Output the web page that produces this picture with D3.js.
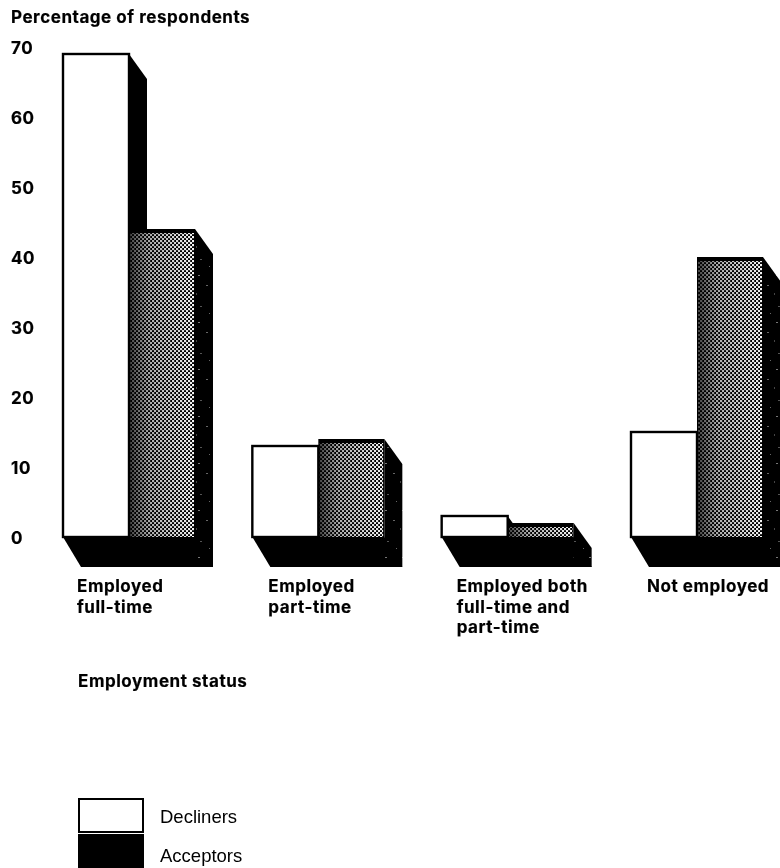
<!DOCTYPE html>
<html><head><meta charset="utf-8">
<script src="https://cdn.jsdelivr.net/npm/d3@7/dist/d3.min.js"></script>
<style>html,body{margin:0;padding:0;background:#fff}svg{display:block}
text{font-family:"Liberation Sans",Arial,sans-serif;fill:#000}
.b{font-family:Inter,"Liberation Sans",sans-serif;font-weight:700;font-size:17px;letter-spacing:.55px;stroke:#000;stroke-width:.2px}
.r{font-size:18.5px;letter-spacing:0}</style></head><body><svg id="c" width="780" height="868"></svg>
<script>
const categories=[["Employed","full-time"],["Employed","part-time"],["Employed both","full-time and","part-time"],["Not employed"]];
const decliners=[69,13,3,15];
const acceptors=[44,14,2,40];
const yTicks=[0,10,20,30,40,50,60,70];
const legendLabels=["Decliners","Acceptors"];
const yTitle="Percentage of respondents";
const xTitle="Employment status";

const svg=d3.select("#c");
const y=d3.scaleLinear().domain([0,70]).range([537,47]);
const x0=d3.scalePoint().domain(d3.range(categories.length)).range([63,631]);
const bw=66, dx=18, dyTop=25, dyFloor=30;
const labelDx=[14,16,15,16];
const defs=svg.append("defs");
const f=defs.append("filter").attr("id","soft").attr("x",0).attr("y",0).attr("width",1).attr("height",1);
f.append("feGaussianBlur").attr("stdDeviation",.4);
const g=defs.append("linearGradient").attr("id","grad");
g.append("stop").attr("offset","0").attr("stop-color","#444");
g.append("stop").attr("offset","0.3").attr("stop-color","#aaa");
g.append("stop").attr("offset","1").attr("stop-color","#f4f4f4");
const m=defs.append("mask").attr("id","fade").attr("maskContentUnits","objectBoundingBox");
m.append("rect").attr("width",1).attr("height",1).attr("fill","url(#grad)");
const p=defs.append("pattern").attr("id","dots").attr("width",4).attr("height",4).attr("patternUnits","userSpaceOnUse");
p.append("rect").attr("x",0).attr("y",0).attr("width",2.2).attr("height",2.2).attr("fill","#fff");
p.append("rect").attr("x",2).attr("y",2).attr("width",2.2).attr("height",2.2).attr("fill","#fff");
const sp=defs.append("pattern").attr("id","speck").attr("width",17).attr("height",47).attr("patternUnits","userSpaceOnUse");
sp.append("rect").attr("width",17).attr("height",47).attr("fill","#060606");
[[2,3,2,1,"#666"],[9,11,1,2,"#444"],[13,24,2,1,"#555"],[5,31,1,1,"#666"],[11,40,2,1,"#777"]]
 .forEach(d=>sp.append("rect").attr("x",d[0]).attr("y",d[1]).attr("width",d[2]).attr("height",d[3]).attr("fill",d[4]));
const root=svg.append("g").attr("filter","url(#soft)");
const line=d3.line();
categories.forEach((c,i)=>{
  const L=x0(i), M=L+bw, R=M+bw;
  const yb=y(0), yd=y(decliners[i]), ya=y(acceptors[i]);
  const G=root.append("g");
  // floor
  G.append("path").attr("d",line([[L,yb],[R,yb],[R+dx,yb+dyFloor],[L+dx,yb+dyFloor]])+"Z").attr("fill","#000");
  // decliner right side
  G.append("path").attr("d",line([[M,yd],[M+dx,yd+dyTop],[M+dx,yb],[M,yb]])+"Z").attr("fill","#000");
  // acceptor right side
  G.append("path").attr("d",line([[R,ya],[R+dx,ya+dyTop],[R+dx,yb+dyFloor],[R,yb+dyFloor]])+"Z").attr("fill","url(#speck)");
  // acceptor front
  G.append("rect").attr("x",M).attr("y",ya).attr("width",bw).attr("height",yb-ya).attr("fill","#000");
  G.append("rect").attr("x",M+1).attr("y",ya+4).attr("width",bw-2).attr("height",Math.max(0,yb-ya-4)).attr("fill","url(#dots)").attr("mask","url(#fade)");
  // decliner front
  G.append("rect").attr("x",L).attr("y",yd).attr("width",bw).attr("height",yb-yd).attr("fill","#fff").attr("stroke","#000").attr("stroke-width",2.4);
  // labels
  const t=root.append("text").attr("class","b");
  c.forEach((s,j)=>t.append("tspan").attr("x",L+labelDx[i]).attr("y",592+j*20.5).text(s));
});
root.selectAll(".yt").data(yTicks).join("text").attr("class","b yt").attr("x",11).attr("y",d=>y(d)+7).text(d=>d);
root.append("text").attr("class","b").attr("x",11).attr("y",23).text(yTitle);
root.append("text").attr("class","b").attr("x",78).attr("y",687).text(xTitle);
const ly=d3.scalePoint().domain(legendLabels).range([799,835]);
const lc=d3.scaleOrdinal().domain(legendLabels).range(["#fff","#000"]);
root.selectAll(".lg").data(legendLabels).join("rect").attr("class","lg")
 .attr("x",79).attr("y",d=>ly(d)).attr("width",64).attr("height",33)
 .attr("fill",d=>lc(d)).attr("stroke","#000").attr("stroke-width",2);
root.selectAll(".lt").data(legendLabels).join("text").attr("class","r lt")
 .attr("x",160).attr("y",(d,i)=>ly(d)+[24,27][i]).text(d=>d);
</script></body></html>
